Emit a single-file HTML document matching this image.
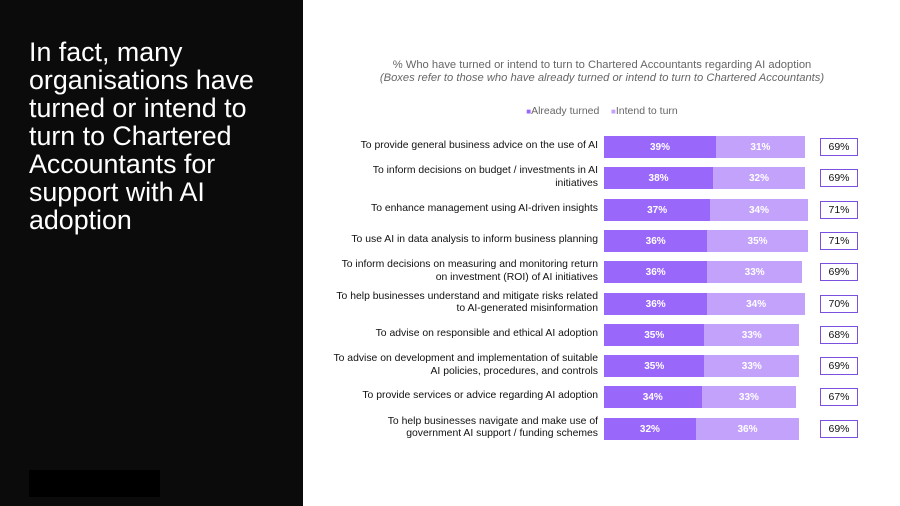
<!DOCTYPE html>
<html><head><style>
body{margin:0;width:900px;height:506px;background:#fff;position:relative;overflow:hidden;font-family:"Liberation Sans",Arial,sans-serif}
#left{position:absolute;left:0;top:0;width:303px;height:506px;background:#0b0b0b}
#title{position:absolute;left:29px;top:38px;color:#fff;font-size:26.8px;line-height:28px;white-space:nowrap}
#blk{position:absolute;left:29px;top:470px;width:131px;height:27px;background:#000}
.t{position:absolute;text-align:center;color:#666;font-size:11.2px;left:304px;width:596px}
.lab{position:absolute;right:302px;width:290px;text-align:right;font-size:10.4px;line-height:12.5px;color:#111}
.b{position:absolute;height:22px;color:#fff;font-size:10px;font-weight:bold;text-align:center;line-height:23px}
.d{background:#9a67fb}.l{background:#c3a2fc}
.box{position:absolute;left:820px;width:36px;height:16px;border:1px solid #7b4fe0;font-size:10.5px;line-height:16px;text-align:center;color:#111}
</style></head><body>
<div id="left"><div id="title">In fact, many<br>organisations have<br>turned or intend to<br>turn to Chartered<br>Accountants for<br>support with AI<br>adoption</div><div id="blk"></div></div>
<div class="t" style="top:59px">% Who have turned or intend to turn to Chartered Accountants regarding AI adoption</div>
<div class="t" style="top:72px;font-style:italic">(Boxes refer to those who have already turned or intend to turn to Chartered Accountants)</div>
<div class="t" style="top:105px;font-size:10.5px"><span style="color:#9a67fb;font-size:8px">■</span>Already turned &nbsp;&nbsp;&nbsp;<span style="color:#c3a2fc;font-size:8px">■</span>Intend to turn</div>
<div id="rows"></div>
<script>
var d=[["To provide general business advice on the use of AI",39,31,69],
["To inform decisions on budget / investments in AI<br>initiatives",38,32,69],
["To enhance management using AI-driven insights",37,34,71],
["To use AI in data analysis to inform business planning",36,35,71],
["To inform decisions on measuring and monitoring return<br>on investment (ROI) of AI initiatives",36,33,69],
["To help businesses understand and mitigate risks related<br>to AI-generated misinformation",36,34,70],
["To advise on responsible and ethical AI adoption",35,33,68],
["To advise on development and implementation of suitable<br>AI policies, procedures, and controls",35,33,69],
["To provide services or advice regarding AI adoption",34,33,67],
["To help businesses navigate and make use of<br>government AI support / funding schemes",32,36,69]];
var h="",s=2.87;
d.forEach(function(r,i){var c=147+i*31.3;var two=r[0].indexOf("<br>")>0;
h+='<div class="lab" style="top:'+(c-(two?13:7))+'px">'+r[0]+'</div>';
var w1=r[1]*s,w2=r[2]*s;
h+='<div class="b d" style="left:604px;top:'+(c-11)+'px;width:'+w1+'px">'+r[1]+'%</div>';
h+='<div class="b l" style="left:'+(604+w1)+'px;top:'+(c-11)+'px;width:'+w2+'px">'+r[2]+'%</div>';
h+='<div class="box" style="top:'+(c-9)+'px">'+r[3]+'%</div>';});
document.getElementById("rows").innerHTML=h;
</script>
</body></html>
